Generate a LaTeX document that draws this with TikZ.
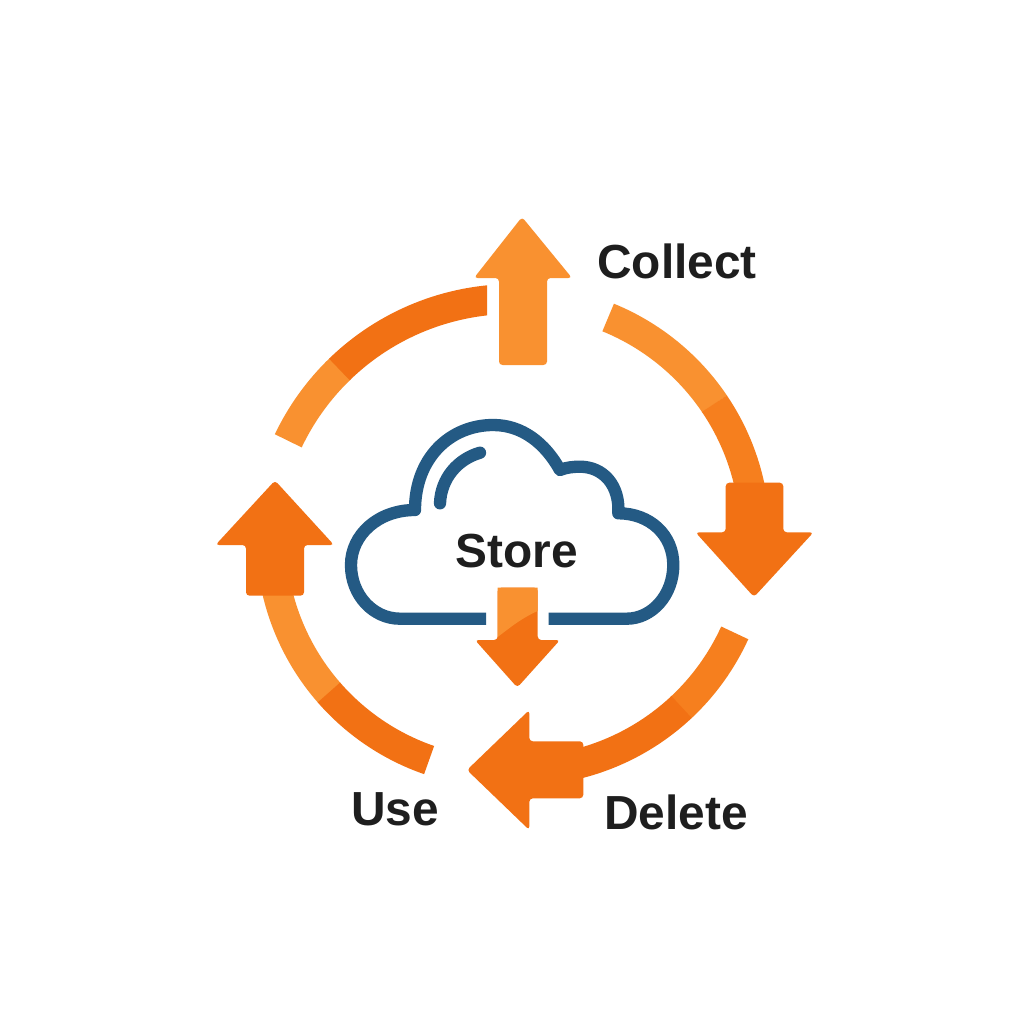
\documentclass[tikz,border=0pt]{standalone}
\usepackage{fontspec}
\setmainfont{Liberation Sans}
\definecolor{Amber}{HTML}{F99130}
\definecolor{Flame}{HTML}{F27114}
\definecolor{Tangerine}{HTML}{F67F1E}
\definecolor{CloudBlue}{HTML}{245A84}
\definecolor{Ink}{HTML}{1E1E1E}
\usetikzlibrary{positioning}

\begin{document}
\begin{tikzpicture}[x=0.01cm,y=-0.01cm,
 band/.style={line width=8.5pt},
 head/.style={rounded corners=1pt},
 cloudline/.style={draw=CloudBlue,line width=3.5pt,line join=round},
 word/.style={anchor=base,text=Ink,font=\fontsize{13.6pt}{16pt}\selectfont\bfseries}]
\path[fill=white,use as bounding box] (0,0) rectangle (1024,1024);
% ring segments
\begin{scope}
\clip (0,0) rectangle (487,1024);
\foreach \cx/\cy/\r/\a/\b/\col in {513/548/249/-154.5/-134/Amber,513/548/249/-134.2/-90/Flame} {
 \draw[band,\col] (\cx,\cy) ++(\a:\r) arc (\a:\b:\r);
}
\end{scope}
\foreach \cx/\cy/\r/\a/\b/\col in {
 519/536/236/-67.8/-34/Amber,519/536/236/-34.1/-11/Tangerine,
 520/535/236/24.5/47/Tangerine,520/535/236/46.8/77/Flame,
 506/538/235/168/138.7/Amber,506/538/235/138.9/109.1/Flame} {
 \draw[band,\col] (\cx,\cy) ++(\a:\r) arc (\a:\b:\r);
}
% arrows
\fill[head,Amber] (522,217)--(572,278)--(547,278)--(547,365)--(499,365)--(499,278)--(474,278)--cycle;
\fill[head,Flame] (754,597)--(813.5,532.3)--(783.3,532.3)--(783.3,482.7)--(725.7,482.7)--(725.7,532.3)--(695.5,532.3)--cycle;
\fill[head,Flame] (467,770)--(529.3,710)--(529.3,741.3)--(583.3,741.3)--(583.3,798.3)--(529.3,798.3)--(529.3,830)--cycle;
\fill[head,Flame] (275,480.5)--(334,545)--(304,545)--(304,595.7)--(246,595.7)--(246,545)--(215.5,545)--cycle;
% cloud
\draw[cloudline] (548.7,618.7)--(626.7,618.7)
 .. controls (652,618.7) and (673.3,595) .. (673.3,565)
 .. controls (673.3,535) and (650,513.3) .. (618.3,513.3)
 .. controls (620,485) and (603,466.7) .. (580,466.7)
 .. controls (573,466.7) and (566,467.5) .. (560,470)
 .. controls (545,443) and (522,425) .. (493.3,425)
 .. controls (450,425) and (415,458) .. (415,510)
 .. controls (378,510) and (351,535) .. (351,565)
 .. controls (351,595) and (373,618.7) .. (400,618.7)
 --(486,618.7);
\draw[cloudline,line cap=round] (440,503.3) .. controls (441,478) and (458,459) .. (480,452.7);
% small arrow below the cloud
\fill[head,Flame] (517.3,687.5)--(560,640)--(537.7,640)--(537.7,587.7)--(497.7,587.7)--(497.7,640)--(475,640)--cycle;
\fill[Amber] (497.7,587.7)--(537.7,587.7)--(537.7,611)
 .. controls (522,618) and (512,626) .. (497.7,637)--cycle;
% labels
\node[word] (collect) at (677,278) {Collect};
\node[word] (store) at (517,567) {Store};
\node[word] (delete) at (676,829) {Delete};
\node[word] (use) at (395,825) {Use};
\end{tikzpicture}
\end{document}
